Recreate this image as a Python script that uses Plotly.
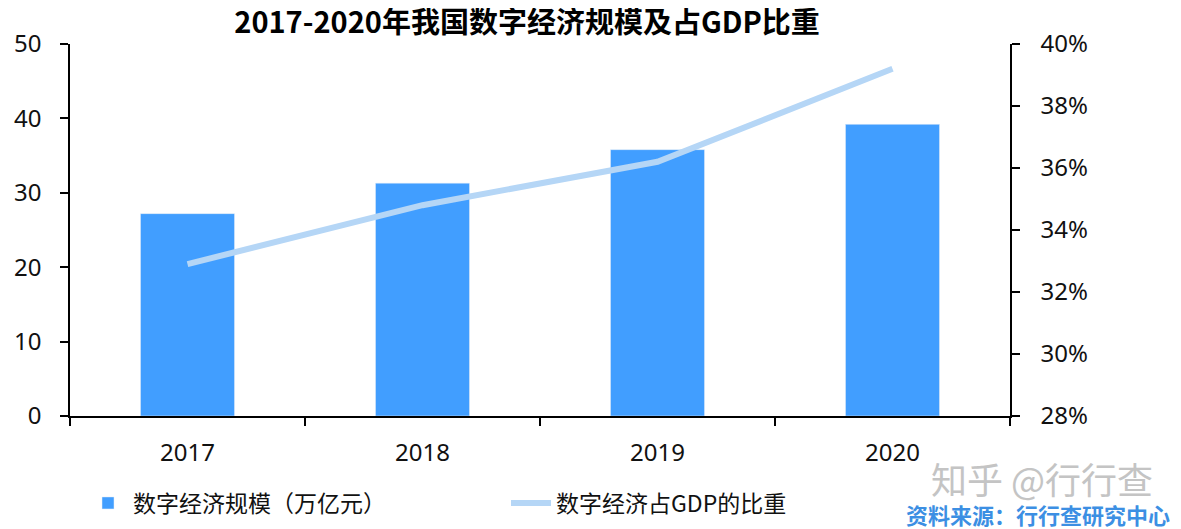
import plotly.graph_objects as go

years = ["2017", "2018", "2019", "2020"]
scale = [27.2, 31.3, 35.8, 39.2]          # 数字经济规模（万亿元）
share = [0.329, 0.348, 0.362, 0.392]      # 数字经济占GDP的比重

title_text = "2017-2020年我国数字经济规模及占GDP比重"
bar_name = "数字经济规模（万亿元）"
line_name = "数字经济占GDP的比重"
watermark = "知乎 @行行查"
source = "资料来源：行行查研究中心"

FONT = "Noto Sans, Noto Sans CJK SC, sans-serif"
CJK = "Noto Sans CJK SC, Noto Sans, sans-serif"

# page body adds an 8px offset; figure is laid out in shifted coordinates
W, H = 1173, 521
OFF = 8
PL, PR, PT, PB = 70 - OFF, 1010 - OFF, 44 - OFF, 416 - OFF

fig = go.Figure()
fig.add_trace(go.Bar(x=years, y=scale, name=bar_name, marker_color="#419EFF",
                     width=0.4, yaxis="y"))
fig.add_trace(go.Scatter(x=years, y=share, name=line_name, mode="lines",
                         line=dict(color="#B5D6F6", width=6), yaxis="y2"))

axis_common = dict(ticks="outside", ticklen=8, tickcolor="#000", tickwidth=1.5,
                   showline=True, linecolor="#000", linewidth=1.5, showgrid=False,
                   zeroline=False)

def px_x(x):
    return (x - OFF - PL) / (PR - PL)

def px_y(y):
    return (PB - (y - OFF)) / (PB - PT)

fig.update_layout(
    width=W, height=H,
    margin=dict(l=PL, r=W - PR, t=PT, b=H - PB, autoexpand=False),
    paper_bgcolor="white", plot_bgcolor="white",
    font=dict(family=CJK, size=23, color="#111"),
    title=dict(text="<b>" + title_text + "</b>", x=(527 - OFF) / W, xanchor="center",
               y=1 - (23 - OFF) / H, yanchor="middle",
               font=dict(size=29, family=CJK, color="#000")),
    xaxis=dict(type="category", tickson="boundaries", ticklabelstandoff=14,
               tickfont=dict(size=24, family=FONT), **axis_common),
    yaxis=dict(range=[0, 50], dtick=10, ticklabelstandoff=14,
               tickfont=dict(size=24, family=FONT), **axis_common),
    yaxis2=dict(range=[0.28, 0.40], dtick=0.02, tickformat=".0%", overlaying="y",
                side="right", ticklabelstandoff=16,
                tickfont=dict(size=24, family=FONT), **axis_common),
    showlegend=True,
    legend=dict(orientation="h", xref="container", yref="container",
                x=(83 - OFF) / W, y=1 - (503 - OFF) / H, xanchor="left", yanchor="middle",
                font=dict(size=23, family=CJK), entrywidth=368, entrywidthmode="pixels",
                itemwidth=40, traceorder="normal"),
)

fig.add_annotation(text=watermark, xref="paper", yref="paper",
                   x=px_x(1042), y=px_y(478), xanchor="center", yanchor="middle",
                   showarrow=False, font=dict(size=36, color="#C4C4C4", family=CJK))
fig.add_annotation(text="<b>" + source + "</b>", xref="paper", yref="paper",
                   x=px_x(1172), y=px_y(514), xanchor="right", yanchor="middle",
                   showarrow=False, font=dict(size=22, color="#3C8FE3", family=CJK))

fig.write_html("out.html")
